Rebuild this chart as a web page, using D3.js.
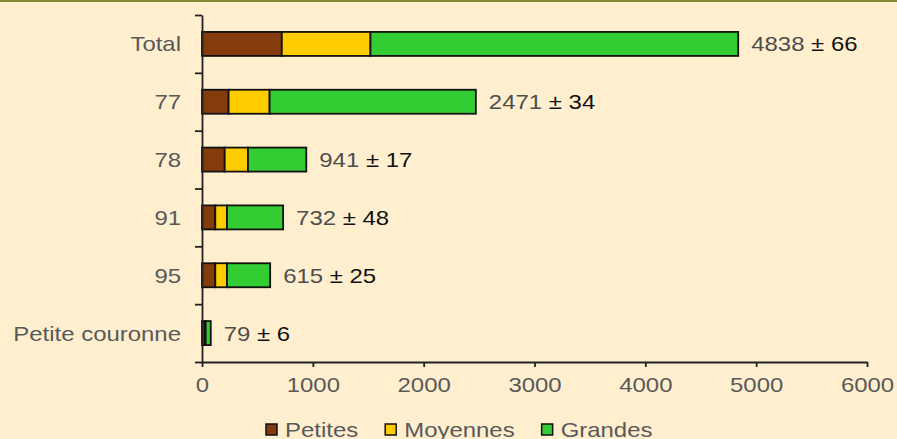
<!DOCTYPE html>
<html>
  <head>
    <meta charset="utf-8">
    <script src="https://cdn.jsdelivr.net/npm/d3@7"></script>
    <style>
      body {margin:0; background:#FFEFCF;}
      svg {display:block;}
    </style>
  </head>
  <body>
    <div id="chart"></div>
    <script>
      var categories = ["Total", "77", "78", "91", "95", "Petite couronne"];
      var petites  = [720, 240, 205, 120, 120, 25];
      var moyennes = [800, 370, 210, 105, 105, 8];
      var grandes  = [3318, 1861, 526, 507, 390, 46];
      var totals   = [4838, 2471, 941, 732, 615, 79];
      var errors   = [66, 34, 17, 48, 25, 6];
      var seriesNames = ["Petites", "Moyennes", "Grandes"];
      var xTicks = [0, 1000, 2000, 3000, 4000, 5000, 6000];

      var W = 897, H = 439;
      var colors = {"Petites": "#843C0C", "Moyennes": "#FFCC00", "Grandes": "#33CC33"};
      var stretch = 1.14;
      var fs = "21px";

      var rows = categories.map(function(c, i){
        return {cat: c, Petites: petites[i], Moyennes: moyennes[i], Grandes: grandes[i], total: totals[i], err: errors[i]};
      });

      var svg = d3.select("#chart").append("svg")
        .attr("width", W)
        .attr("height", H)
        .style("font-family", "'Liberation Sans', Arial, sans-serif");

      svg.append("rect").attr("width", W).attr("height", H).attr("fill", "#FFEFCF");
      svg.append("rect").attr("width", W).attr("height", 2).attr("fill", "#878735");

      var x = d3.scaleLinear().domain([0, 6000]).range([202, 867]);
      var y = d3.scaleBand().domain(categories).range([15, 362])
        .paddingInner(0.585).paddingOuter(0.2925);
      var yEdge = d3.scaleLinear().domain([0, categories.length]).range([15, 362]);

      // bars
      var stack = d3.stack().keys(seriesNames)(rows);
      svg.append("g").selectAll("g")
        .data(stack)
        .enter().append("g")
          .attr("fill", function(d){ return colors[d.key]; })
        .selectAll("rect")
        .data(function(d){ return d; })
        .enter().append("rect")
          .attr("x", function(d){ return x(d[0]); })
          .attr("y", function(d){ return y(d.data.cat); })
          .attr("width", function(d){ return x(d[1]) - x(d[0]); })
          .attr("height", y.bandwidth())
          .attr("stroke", "#111")
          .attr("stroke-width", 1.8);

      // value labels
      var lab = svg.append("g").selectAll("text")
        .data(rows)
        .enter().append("text")
          .attr("x", function(d){ return x(d.total) + 13; })
          .attr("y", function(d){ return y(d.cat) + y.bandwidth() / 2; })
          .attr("dy", "0.36em")
          .style("font-size", fs);
      lab.append("tspan").attr("fill", "#4d4d4d").text(function(d){ return d.total + " "; });
      lab.append("tspan").attr("fill", "#111").text(function(d){ return "\u00b1 " + d.err; });

      // y axis: ticks between categories
      svg.append("g")
        .attr("transform", "translate(" + x(0) + ",0)")
        .call(d3.axisLeft(yEdge).tickValues(d3.range(categories.length + 1)).tickFormat("").tickSize(7).tickSizeOuter(0));
      // category labels
      var yLab = svg.append("g")
        .attr("transform", "translate(" + x(0) + ",0)")
        .call(d3.axisLeft(y).tickSize(0).tickPadding(21));
      yLab.select(".domain").remove();

      // x axis
      svg.append("g")
        .attr("transform", "translate(0," + 362 + ")")
        .call(d3.axisBottom(x).tickValues(xTicks).tickFormat(d3.format("d")).tickSize(5).tickSizeOuter(0).tickPadding(10));

      svg.selectAll(".domain, .tick line").attr("stroke", "#222").attr("stroke-width", 1.8);
      svg.selectAll(".tick text").attr("fill", "#595959").style("font-size", fs);
      svg.selectAll(".tick").attr("font-family", null);
      yLab.selectAll(".tick text").attr("dy", "0.36em");

      // legend
      var legend = svg.append("g");
      var lx = 266;
      seriesNames.forEach(function(name){
        legend.append("rect")
          .attr("x", lx).attr("y", 424)
          .attr("width", 11).attr("height", 11)
          .attr("fill", colors[name])
          .attr("stroke", "#111").attr("stroke-width", 1.5);
        var t = legend.append("text")
          .attr("x", lx + 19).attr("y", 436.5)
          .attr("fill", "#595959")
          .style("font-size", fs)
          .text(name);
        lx = lx + 19 + t.node().getComputedTextLength() * stretch + 27;
      });

      // widen text to match the stretched look of the original
      svg.selectAll("text").each(function(){
        var l = this.getComputedTextLength();
        this.setAttribute("textLength", l * stretch);
        this.setAttribute("lengthAdjust", "spacingAndGlyphs");
      });
    </script>
  </body>
</html>
